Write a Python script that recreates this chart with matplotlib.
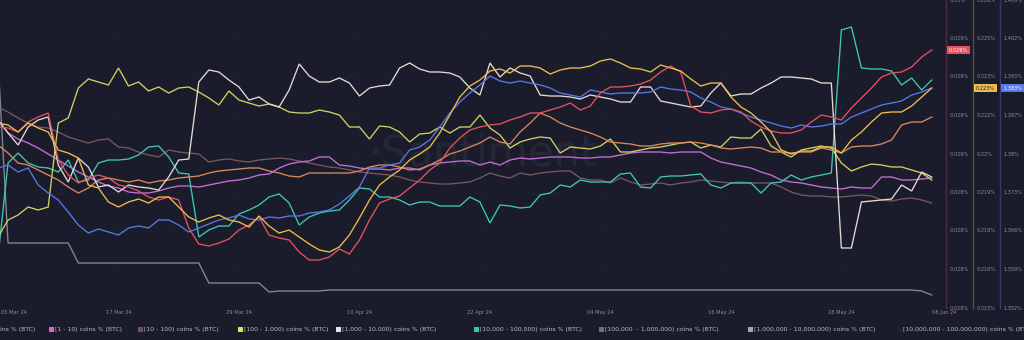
import numpy as np
import matplotlib
matplotlib.use("Agg")
import matplotlib.pyplot as plt
from matplotlib import transforms
from matplotlib.patches import Rectangle
from matplotlib.lines import Line2D

# ---------------- data (relative level, 0 = bottom of chart, 308 = top) -------------
days = np.arange(94)  # daily points starting 05 Mar 24

red_vals = [181, 180, 176, 186, 191, 195, 148, 133, 125, 130,
            133, 130, 123, 121, 117, 111, 108, 111, 108, 80,
            64, 62, 65, 69, 78, 83, 91, 73, 70, 68,
            56, 48, 48, 51, 59, 54, 68, 88, 105, 109,
            112, 120, 128, 138, 145, 160, 170, 178, 181, 183,
            184, 188, 191, 195, 195, 198, 201, 205, 198, 202,
            215, 221, 221, 222, 224, 228, 236, 242, 236, 202,
            196, 195, 198, 199, 196, 187, 181, 177, 175, 175,
            178, 186, 193, 191, 188, 200, 210, 220, 231, 235,
            236, 241, 251, 258]

gold_vals = [185, 183, 176, 185, 180, 176, 158, 155, 150, 123,
             120, 106, 101, 106, 109, 105, 111, 111, 101, 91,
             86, 90, 93, 88, 86, 81, 92, 82, 75, 78,
             71, 64, 58, 56, 61, 73, 90, 108, 123, 131,
             138, 148, 154, 161, 175, 193, 211, 222, 228, 237,
             239, 235, 242, 242, 240, 234, 238, 240, 240, 242,
             247, 249, 245, 240, 239, 236, 243, 240, 237, 229,
             222, 225, 225, 211, 201, 195, 186, 176, 158, 154,
             157, 157, 161, 161, 155, 168, 176, 186, 195, 196,
             196, 202, 211, 220]

blue_vals = [140, 143, 136, 140, 123, 115, 108, 96, 83, 75,
             79, 76, 73, 80, 82, 80, 88, 88, 83, 76,
             80, 84, 88, 90, 93, 89, 88, 91, 90, 92,
             92, 95, 96, 98, 104, 112, 121, 140, 140, 143,
             145, 158, 161, 168, 181, 195, 206, 215, 223, 232,
             227, 225, 227, 225, 223, 220, 215, 213, 211, 218,
             216, 214, 215, 215, 215, 216, 221, 219, 218, 216,
             210, 206, 201, 199, 195, 191, 188, 185, 182, 180,
             183, 181, 182, 184, 184, 191, 195, 199, 203, 205,
             207, 213, 216, 220]

orange_vals = [163, 155, 145, 143, 138, 133, 128, 121, 115, 120,
               128, 130, 128, 126, 128, 125, 127, 128, 130, 131,
               132, 135, 137, 138, 139, 140, 140, 137, 135, 132,
               131, 135, 135, 135, 135, 135, 137, 141, 143, 143,
               141, 138, 139, 143, 148, 154, 157, 161, 165, 171,
               166, 164, 176, 185, 195, 191, 185, 181, 178, 175,
               171, 166, 165, 164, 162, 162, 164, 165, 165, 166,
               165, 163, 160, 159, 160, 161, 160, 156, 156, 155,
               156, 156, 160, 158, 155, 161, 162, 162, 164, 168,
               183, 186, 186, 191]

coins_1_10 = [188, 175, 169, 165, 160, 154, 148, 142, 136, 131,
              126, 122, 120, 116, 115, 115, 117, 120, 122, 122,
              121, 123, 125, 127, 128, 130, 133, 134, 140, 144,
              146, 147, 151, 151, 143, 142, 140, 139, 139, 138,
              140, 140, 138, 143, 145, 146, 147, 147, 143, 146,
              143, 148, 150, 149, 150, 151, 151, 151, 150, 150,
              151, 151, 153, 155, 156, 156, 156, 155, 156, 156,
              156, 150, 146, 144, 142, 140, 136, 133, 128, 126,
              125, 123, 121, 120, 119, 121, 120, 120, 131, 131,
              128, 128, 129, 130]

coins_10_100 = [201, 196, 190, 185, 181, 180, 176, 171, 168, 165,
                168, 169, 161, 160, 156, 153, 151, 158, 156, 155,
                154, 146, 148, 149, 147, 146, 148, 149, 150, 149,
                147, 145, 143, 141, 140, 138, 136, 135, 134, 133,
                131, 128, 126, 125, 124, 124, 125, 126, 130, 135,
                132, 130, 135, 133, 135, 136, 137, 137, 130, 128,
                128, 125, 130, 126, 123, 124, 125, 123, 125, 126,
                128, 127, 126, 125, 126, 125, 125, 125, 121, 116,
                113, 112, 112, 111, 111, 112, 113, 112, 108, 107,
                109, 110, 108, 105]

coins_100_1k = [71, 88, 93, 101, 98, 101, 185, 190, 220, 229,
                226, 223, 240, 222, 226, 217, 221, 215, 220, 221,
                216, 210, 203, 217, 208, 205, 202, 204, 201, 196,
                195, 195, 198, 196, 193, 181, 181, 169, 182, 181,
                176, 166, 174, 175, 181, 175, 181, 181, 193, 180,
                173, 160, 166, 169, 171, 170, 155, 161, 160, 159,
                162, 169, 156, 156, 158, 160, 161, 163, 165, 166,
                160, 163, 161, 171, 170, 170, 179, 162, 156, 151,
                158, 160, 162, 160, 145, 137, 141, 144, 143, 141,
                141, 138, 135, 128]

coins_1k_10k = [188, 175, 163, 181, 188, 191, 143, 126, 150, 141,
                121, 123, 116, 123, 121, 120, 118, 131, 148, 149,
                226, 238, 236, 228, 221, 208, 211, 204, 201, 218,
                244, 232, 226, 226, 230, 225, 212, 220, 222, 223,
                240, 245, 239, 236, 236, 235, 231, 220, 213, 245,
                231, 240, 235, 232, 213, 212, 212, 211, 209, 213,
                211, 209, 206, 206, 221, 221, 207, 205, 203, 201,
                202, 215, 225, 212, 214, 214, 220, 225, 231, 231,
                230, 229, 225, 225, 60, 60, 106, 107, 108, 109,
                123, 117, 136, 131]

coins_10k_100k = [51, 145, 155, 145, 141, 140, 136, 148, 126, 128,
                  145, 148, 148, 149, 153, 161, 162, 151, 135, 134,
                  71, 78, 82, 82, 94, 98, 103, 111, 114, 105,
                  83, 91, 95, 97, 98, 108, 120, 119, 111, 111,
                  108, 103, 106, 106, 102, 102, 102, 111, 106, 85,
                  103, 102, 100, 101, 113, 115, 123, 121, 128, 126,
                  126, 126, 134, 135, 121, 120, 131, 132, 132, 133,
                  134, 123, 120, 125, 125, 125, 115, 125, 126, 133,
                  128, 131, 133, 135, 278, 281, 240, 239, 239, 237,
                  223, 230, 218, 228]

coins_100k_1m = [248, 65, 65, 65, 65, 65, 65, 65, 45, 45,
                 45, 45, 45, 45, 45, 45, 45, 45, 45, 45,
                 45, 25, 25, 25, 25, 25, 25, 16, 17, 17,
                 17, 17, 17, 18, 18, 18, 18, 18, 18, 18,
                 18, 18, 18, 18, 18, 18, 18, 18, 18, 18,
                 18, 18, 18, 18, 18, 18, 18, 18, 18, 18,
                 18, 18, 18, 18, 18, 18, 18, 18, 18, 18,
                 18, 18, 18, 18, 18, 18, 18, 18, 18, 18,
                 18, 18, 18, 18, 18, 18, 18, 18, 18, 18,
                 18, 18, 17, 13]

tick_days = [12, 24, 36, 48, 60, 72, 84]
tick_labels = ["17 Mar 24", "29 Mar 24", "10 Apr 24", "22 Apr 24",
               "04 May 24", "16 May 24", "28 May 24"]
first_label = "05 Mar 24"
last_label = "08 Jun 24"

axis1_labels = ["0.03%", "0.029%", "0.029%", "0.029%", "0.029%",
                "0.028%", "0.028%", "0.028%", "0.028%"]
axis2_labels = ["0.226%", "0.225%", "0.223%", "0.222%", "0.22%",
                "0.219%", "0.218%", "0.216%", "0.215%"]
axis3_labels = ["1.409%", "1.402%", "1.395%", "1.387%", "1.38%",
                "1.373%", "1.366%", "1.359%", "1.352%"]
red_last, gold_last, blue_last = "0.029%", "0.223%", "1.383%"

legend_labels = ["ins % (BTC)", "[1 - 10) coins % (BTC)", "[10 - 100) coins % (BTC)",
                 "[100 - 1,000) coins % (BTC)", "[1,000 - 10,000) coins % (BTC)",
                 "[10,000 - 100,000) coins % (BTC)", "[100,000  - 1,000,000) coins % (BTC)",
                 "[1,000,000 - 10,000,000) coins % (BTC)",
                 "[10,000,000 - 100,000,000) coins % (BTC)"]

# ---------------- style ----------------
BG = "#1b1c2b"
C_RED = "#e4525f"
C_GOLD = "#efbd4c"
C_BLUE = "#5877e6"
C_ORANGE = "#d9895c"
C_PINK = "#c56fd9"
C_BROWN = "#76595b"
C_LIME = "#cfd163"
C_WHITE = "#e6d8d3"
C_TEAL = "#3fc8b1"
C_GRAY = "#868892"
TXT = "#8a8e9c"

W, H = 1024, 340
fig = plt.figure(figsize=(W / 100, H / 100), dpi=100, facecolor=BG)
PLOT_H = 308
PLOT_W = 946
ax = fig.add_axes([0, (H - PLOT_H) / H, PLOT_W / W, PLOT_H / H])
ax.set_facecolor(BG)
for s in ax.spines.values():
    s.set_visible(False)
ax.set_xticks([])
ax.set_yticks([])
ax.set_xlim((0 + 2) / 10.04, (PLOT_W + 2) / 10.04)
ax.set_ylim(0, PLOT_H)

levels = np.linspace(PLOT_H, 0, 9)
for lv in levels[1:-1]:
    ax.axhline(lv, color="#1f2132", lw=0.6, zorder=0)
for td in tick_days:
    ax.axvline(td, color="#1e2031", lw=0.6, zorder=0)

ax.text(485 / 10.04, 154, "·Santiment", color="#252737", fontsize=30,
        ha="center", va="center", zorder=0.5)

series = [
    (coins_100k_1m, C_GRAY),
    (coins_10_100, C_BROWN),
    (coins_1_10, C_PINK),
    (coins_10k_100k, C_TEAL),
    (coins_100_1k, C_LIME),
    (orange_vals, C_ORANGE),
    (coins_1k_10k, C_WHITE),
    (blue_vals, C_BLUE),
    (red_vals, C_RED),
    (gold_vals, C_GOLD),
]
for vals, col in series:
    ax.plot(days, vals, color=col, lw=0.95, solid_joinstyle="miter", zorder=2)

# ---------------- right-hand axes ----------------
fy = transforms.blended_transform_factory(fig.transFigure, ax.transData)
ybot = (H - PLOT_H) / H
axis_x = [946, 973, 1000]
axis_cols = ["#4e2c3e", "#5a4f2e", "#323c72"]
for xx, cc in zip(axis_x, axis_cols):
    fig.add_artist(Line2D([xx / W, xx / W], [ybot, 1], color=cc, lw=1.0))
for xx, labs in zip(axis_x, [axis1_labels, axis2_labels, axis3_labels]):
    for lv, lab in zip(levels, labs):
        fig.text((xx + 3.5) / W, lv, lab, transform=fy, color=TXT,
                 fontsize=3.6, ha="left", va="center")

for xx, val, lab, fc, tc in [(946, red_vals[-1], red_last, C_RED, "white"),
                              (973, gold_vals[-1], gold_last, C_GOLD, "#1b1c2b"),
                              (1000, blue_vals[-1], blue_last, C_BLUE, "white")]:
    fig.text((xx + 3) / W, val, lab, transform=fy, color=tc, fontsize=3.6,
             ha="left", va="center",
             bbox=dict(boxstyle="square,pad=0.35", fc=fc, ec="none"))

# ---------------- x labels ----------------
fx = transforms.blended_transform_factory(ax.transData, fig.transFigure)
ylab = (H - 312.5) / H
for td, lab in zip(tick_days, tick_labels):
    fig.text(td, ylab, lab, transform=fx, color=TXT, fontsize=3.7,
             ha="center", va="center")
fig.text(1 / W, ylab, first_label, color=TXT, fontsize=3.7, ha="left", va="center")
fig.text(932 / W, ylab, last_label, color=TXT, fontsize=3.7, ha="left", va="center")

# ---------------- legend ----------------
leg_y = (H - 329) / H
sq_x = [None, 49, 138, 238, 336, 474, 599, 748, 897]
txt_x = [0, 55, 144, 244, 342, 480, 605, 754, 903]
sq_cols = [None, "#e062d8", "#6e5455", "#d9e05f", "#efe4e0", "#33c9a9",
           "#6f6f76", "#b3a3a3", "#20212e"]
for sx, tx, lab, sc in zip(sq_x, txt_x, legend_labels, sq_cols):
    if sx is not None:
        fig.add_artist(Rectangle((sx / W, (H - 331.5) / H), 5 / W, 5 / H,
                                 transform=fig.transFigure, fc=sc, ec="none"))
    fig.text(tx / W, leg_y, lab, color="#b9bdca", fontsize=4.4,
             ha="left", va="center")

fig.savefig("out.png", dpi=100, facecolor=BG)
